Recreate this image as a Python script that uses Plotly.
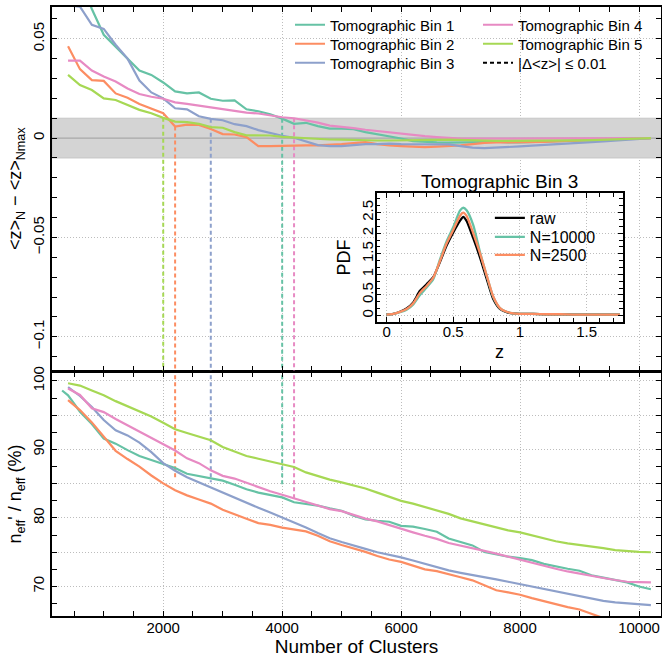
import numpy as np
import plotly.graph_objects as go

# ---------------- data ----------------
n_clusters = list(range(400, 10201, 200))
n_bin1_eff = [300] + n_clusters

bin_names = ["Tomographic Bin 1", "Tomographic Bin 2", "Tomographic Bin 3",
             "Tomographic Bin 4", "Tomographic Bin 5"]

dz_bin1 = [0.095, 0.080, 0.065, 0.052, 0.046, 0.040, 0.034, 0.0318, 0.028, 0.0235,
           0.0225, 0.023, 0.0198, 0.0188, 0.019, 0.0145, 0.0135, 0.012, 0.0098, 0.0072,
           0.0077, 0.006, 0.0048, 0.0048, 0.0045, 0.003, 0.002, 0.001, -0.0002, -0.0015,
           -0.002, -0.0022, -0.0023, -0.0023, -0.0022, -0.002, -0.0018, -0.0022, -0.0022, -0.002,
           -0.0018, -0.0016, -0.0014, -0.0012, -0.001, -0.0008, -0.0005, -0.0003, -0.0001, 0.0]
dz_bin2 = [0.0463, 0.0347, 0.0292, 0.0288, 0.0225, 0.0203, 0.0172, 0.0147, 0.0125, 0.0058,
           0.0068, 0.0066, 0.0046, 0.002, 0.0018, 0.0005, -0.004, -0.004, -0.0038, -0.0037,
           -0.0037, -0.0037, -0.0035, -0.003, -0.0025, -0.002, -0.003, -0.0037, -0.004, -0.0043,
           -0.0045, -0.0043, -0.004, -0.0037, -0.003, -0.0024, -0.0022, -0.0022, -0.0021, -0.002,
           -0.0019, -0.0017, -0.0015, -0.0013, -0.001, -0.0008, -0.0006, -0.0004, -0.0002, 0.0]
dz_bin3 = [0.0668, 0.0662, 0.057, 0.055, 0.047, 0.040, 0.029, 0.023, 0.020, 0.015,
           0.0145, 0.011, 0.0097, 0.009, 0.007, 0.006, 0.004, 0.0025, 0.0012, 0.0002,
           -0.0015, -0.0035, -0.004, -0.004, -0.0035, -0.003, -0.003, -0.0028, -0.003, -0.003,
           -0.003, -0.003, -0.0032, -0.004, -0.0048, -0.005, -0.0048, -0.0046, -0.0042, -0.0038,
           -0.0035, -0.003, -0.0027, -0.0024, -0.002, -0.0016, -0.0012, -0.0008, -0.0004, 0.0]
dz_bin4 = [0.039, 0.039, 0.034, 0.031, 0.0285, 0.025, 0.0222, 0.0208, 0.0198, 0.018,
           0.0172, 0.0165, 0.0155, 0.0146, 0.0138, 0.0128, 0.0124, 0.0115, 0.0105, 0.010,
           0.009, 0.0078, 0.0063, 0.0058, 0.005, 0.0042, 0.0035, 0.003, 0.0022, 0.0015,
           0.001, 0.0005, 0.0, -0.0003, -0.0003, -0.0003, -0.0003, -0.0003, -0.0003, -0.0003,
           -0.0003, -0.0003, -0.0002, -0.0002, -0.0002, -0.0002, -0.0001, -0.0001, 0.0, 0.0]
dz_bin5 = [0.0318, 0.0267, 0.0242, 0.020, 0.0192, 0.0165, 0.0142, 0.0125, 0.0102, 0.0083,
           0.008, 0.0072, 0.0055, 0.0052, 0.003, 0.0014, 0.0013, 0.0013, 0.0006, 0.0002,
           0.0, -0.0004, -0.0007, -0.0008, -0.001, -0.0011, -0.0012, -0.0012, -0.0012, -0.0011,
           -0.001, -0.0009, -0.0008, -0.001, -0.0012, -0.0013, -0.0014, -0.0014, -0.0014, -0.0014,
           -0.0014, -0.0013, -0.0012, -0.0011, -0.001, -0.0008, -0.0006, -0.0004, -0.0002, 0.0]

neff_bin1 = [98.6, 97.9, 95.5, 93.7, 91.6, 90.85, 89.9, 89.05, 88.45, 87.9, 87.3,
             86.45, 86.1, 85.8, 85.45, 84.85, 84.2, 83.7, 83.35, 83.0, 82.3,
             82.1, 81.8, 81.4, 81.05, 80.35, 79.8, 79.6, 79.45, 78.85, 78.75,
             78.4, 78.0, 77.0, 76.5, 76.0, 75.05, 74.7, 74.35, 74.15, 73.85,
             73.3, 72.9, 72.6, 72.3, 71.65, 71.3, 71.0, 70.6, 70.0, 69.6]
neff_bin2 = [97.2, 95.75, 93.95, 91.85, 89.8, 88.6, 87.5, 86.2, 85.05, 84.05,
             83.3, 82.7, 82.1, 81.2, 80.5, 79.9, 79.25, 79.0, 78.6, 78.3,
             78.05, 77.4, 76.6, 76.05, 75.6, 75.05, 74.45, 73.95, 73.6, 73.0,
             72.5, 72.25, 71.85, 71.35, 70.9, 70.2, 69.45, 69.15, 68.8, 68.3,
             67.85, 67.4, 67.0, 66.65, 66.0, 65.4, 65.0, 64.6, 64.2, 63.9]
neff_bin3 = [99.1, 97.8, 96.2, 94.3, 92.8, 92.05, 91.0, 89.6, 88.0, 86.9,
             85.95, 85.2, 84.5, 83.65, 82.9, 82.25, 81.5, 80.8, 80.1, 79.3,
             78.6, 77.8, 77.05, 76.5, 76.05, 75.5, 75.0, 74.65, 74.25, 73.8,
             73.3, 72.85, 72.35, 72.0, 71.7, 71.45, 71.05, 70.7, 70.35, 69.95,
             69.65, 69.3, 68.9, 68.55, 68.15, 67.9, 67.7, 67.55, 67.45, 67.3]
neff_bin4 = [98.9, 97.95, 96.0, 95.45, 94.45, 93.55, 92.65, 91.7, 90.8, 89.85,
             88.7, 88.0, 86.95, 86.15, 85.75, 85.1, 84.45, 83.9, 83.4, 82.85,
             82.35, 81.75, 81.3, 81.0, 80.4, 79.9, 79.5, 78.95, 78.35, 77.9,
             77.4, 76.95, 76.35, 76.0, 75.6, 75.2, 74.8, 74.35, 73.9, 73.4,
             72.95, 72.6, 72.2, 71.85, 71.55, 71.25, 70.95, 70.7, 70.65, 70.6]
neff_bin5 = [99.66, 99.32, 98.6, 97.9, 97.05, 96.3, 95.55, 94.8, 93.9, 92.95,
             92.4, 91.85, 91.35, 90.35, 89.7, 89.05, 88.65, 88.25, 87.9, 87.45,
             86.65, 86.1, 85.6, 85.2, 84.8, 84.3, 83.7, 83.1, 82.5, 82.1,
             81.6, 81.1, 80.6, 79.95, 79.5, 79.1, 78.6, 78.2, 77.9, 77.45,
             77.0, 76.6, 76.3, 76.1, 75.85, 75.6, 75.3, 75.15, 75.05, 75.0]

# N at which |Delta<z>| <= 0.01, and where each marker line ends in the lower panel
n_threshold = [4000, 2200, 2800, 4200, 2000]
neff_cut_end = [84.5, 85.8, 85.2, 82.7, 100.8]
dz_tolerance = 0.01

# inset: PDF of tomographic bin 3
z_grid = [0.0, 0.05, 0.1, 0.15, 0.2, 0.25, 0.3, 0.35, 0.4, 0.45, 0.5, 0.55, 0.575, 0.6,
          0.65, 0.7, 0.75, 0.8, 0.85, 0.9, 0.95, 1.0, 1.1, 1.2, 1.3, 1.4, 1.5, 1.6, 1.7, 1.75]
pdf_raw = [0.02, 0.04, 0.09, 0.17, 0.32, 0.60, 0.76, 0.93, 1.30, 1.70, 2.02, 2.30, 2.40, 2.30,
           1.88, 1.42, 0.90, 0.40, 0.16, 0.08, 0.05, 0.04, 0.04, 0.03, 0.03, 0.02, 0.02, 0.02, 0.02, 0.02]
pdf_n10000 = [0.02, 0.04, 0.08, 0.14, 0.27, 0.50, 0.68, 0.88, 1.36, 1.80, 2.15, 2.55, 2.62, 2.56,
              2.20, 1.55, 0.98, 0.45, 0.18, 0.09, 0.05, 0.04, 0.04, 0.03, 0.03, 0.02, 0.02, 0.02, 0.02, 0.02]
pdf_n2500 = [0.02, 0.04, 0.09, 0.16, 0.30, 0.55, 0.72, 0.92, 1.32, 1.75, 2.08, 2.42, 2.50, 2.42,
             2.00, 1.52, 0.98, 0.46, 0.18, 0.09, 0.05, 0.04, 0.04, 0.03, 0.03, 0.02, 0.02, 0.02, 0.02, 0.02]
inset_names = ["raw", "N=10000", "N=2500"]

# ---------------- style ----------------
colors = ["#66c2a5", "#fc8d62", "#8da0cb", "#e78ac3", "#a6d854"]
FONT = "Liberation Sans"
x_range = [130, 10370]

dz_all = [dz_bin1, dz_bin2, dz_bin3, dz_bin4, dz_bin5]
neff_all = [neff_bin1, neff_bin2, neff_bin3, neff_bin4, neff_bin5]
neff_x = [n_bin1_eff, n_clusters, n_clusters, n_clusters, n_clusters]

# one legend box per entry, so the rows sit where the reference puts them
main_legend_ids = ["legend", "legend2", "legend3", "legend4", "legend5", "legend6"]
inset_legend_ids = ["legend7", "legend8", "legend9"]

fig = go.Figure()

# tolerance band and zero line in upper panel
fig.add_trace(go.Scatter(x=[x_range[0], x_range[1], x_range[1], x_range[0], x_range[0]],
                         y=[-dz_tolerance, -dz_tolerance, dz_tolerance, dz_tolerance, -dz_tolerance],
                         mode="lines", fill="toself", fillcolor="#d4d4d4",
                         line=dict(color="#c6c6c6", width=1),
                         xaxis="x2", yaxis="y2", showlegend=False, hoverinfo="skip"))
fig.add_trace(go.Scatter(x=x_range, y=[0, 0], mode="lines",
                         line=dict(color="#a8a8a8", width=1.2),
                         xaxis="x2", yaxis="y2", showlegend=False, hoverinfo="skip"))

# threshold markers
for i in range(5):
    y_start = float(np.interp(n_threshold[i], n_clusters, dz_all[i]))
    fig.add_trace(go.Scatter(x=[n_threshold[i], n_threshold[i]], y=[y_start, -0.3],
                             mode="lines", line=dict(color=colors[i], width=2, dash="4px,3px"),
                             xaxis="x2", yaxis="y2", showlegend=False, hoverinfo="skip"))
    fig.add_trace(go.Scatter(x=[n_threshold[i], n_threshold[i]], y=[110, neff_cut_end[i]],
                             mode="lines", line=dict(color=colors[i], width=2, dash="4px,3px"),
                             xaxis="x", yaxis="y", showlegend=False, hoverinfo="skip"))

for i in range(5):
    fig.add_trace(go.Scatter(x=n_clusters, y=dz_all[i], mode="lines", name=bin_names[i],
                             line=dict(color=colors[i], width=2.2),
                             xaxis="x2", yaxis="y2", legend=main_legend_ids[i]))
    fig.add_trace(go.Scatter(x=neff_x[i], y=neff_all[i], mode="lines", name=bin_names[i],
                             line=dict(color=colors[i], width=2.2),
                             xaxis="x", yaxis="y", showlegend=False))

fig.add_trace(go.Scatter(x=[None], y=[None], mode="lines", name="|Δ&lt;z&gt;| ≤ 0.01",
                         line=dict(color="black", width=2, dash="4px,3px"),
                         xaxis="x2", yaxis="y2", legend=main_legend_ids[5]))

# inset
for name, ys, col, lg in zip(inset_names, [pdf_raw, pdf_n10000, pdf_n2500],
                             ["black", colors[0], colors[1]], inset_legend_ids):
    fig.add_trace(go.Scatter(x=z_grid, y=ys, mode="lines", name=name,
                             line=dict(color=col, width=2.3, shape="spline", smoothing=0.6),
                             xaxis="x3", yaxis="y3", legend=lg))

split = 244 / 609
line_w = 1.5

axis_common = dict(showline=True, linecolor="black", linewidth=line_w, mirror="ticks",
                   ticks="inside", ticklen=5, tickwidth=1, tickcolor="black",
                   showgrid=True, gridcolor="#bdbdbd", griddash="1px,2px", gridwidth=1,
                   zeroline=False, automargin=False,
                   tickfont=dict(size=15, family=FONT, color="black"))


def legend_box(x, y_px, size):
    return dict(x=x, y=(616 - y_px) / 609, xanchor="left", yanchor="middle",
                bgcolor="rgba(0,0,0,0)", font=dict(size=size, family=FONT),
                itemwidth=30, tracegroupgap=0)


legend_layout = {}
main_rows = [25, 44, 63, 25, 44, 63]
main_cols = [0.3908, 0.3908, 0.3908, 0.6995, 0.6995, 0.6995]
for lid, xc, yr in zip(main_legend_ids, main_cols, main_rows):
    legend_layout[lid] = legend_box(xc, yr, 15)
for lid, yr in zip(inset_legend_ids, [218, 237, 255]):
    legend_layout[lid] = legend_box(0.719, yr, 16)

fig.update_layout(
    width=662, height=657,
    margin=dict(l=52, r=1, t=7, b=41),
    paper_bgcolor="white", plot_bgcolor="white",
    font=dict(family=FONT, color="black"),
    xaxis=dict(axis_common, domain=[0, 1], anchor="y", range=x_range,
               tick0=0, dtick=2000, tickformat="d", ticklabelstandoff=-3,
               minor=dict(dtick=500, ticks="inside", ticklen=5, tickcolor="black", showgrid=False),
               title=dict(text="Number of Clusters", font=dict(size=19), standoff=5)),
    xaxis2=dict(axis_common, domain=[0, 1], anchor="y2", matches="x", showticklabels=False,
                tick0=0, dtick=2000,
                minor=dict(dtick=500, ticks="inside", ticklen=5, tickcolor="black", showgrid=False)),
    yaxis=dict(axis_common, domain=[0, split], anchor="x", range=[65.7, 101.3],
               tickmode="array", tickvals=[70, 75, 80, 85, 90, 95, 100],
               ticktext=["70", "", "80", "", "90", "", "100"], tickangle=-90,
               minor=dict(dtick=2.5, tick0=0, ticks="inside", ticklen=5, tickcolor="black", showgrid=False),
               title=dict(text="n<sub>eff</sub>' / n<sub>eff</sub> (%)", font=dict(size=18), standoff=4)),
    yaxis2=dict(axis_common, domain=[split + line_w / 609, 1], anchor="x2", range=[-0.117, 0.066],
                tick0=0, dtick=0.05, tickangle=-90,
                minor=dict(dtick=0.01, tick0=0, ticks="inside", ticklen=5, tickcolor="black", showgrid=False),
                title=dict(text="&lt;z&gt;<sub>N</sub> − &lt;z&gt;<sub>Nmax</sub>", font=dict(size=18), standoff=4)),
    xaxis3=dict(axis_common, domain=[0.533, 0.938], anchor="y3", range=[-0.075, 1.775],
                tick0=0, dtick=0.5, ticklabelstandoff=-4,
                minor=dict(dtick=0.1, tick0=0, ticks="inside", ticklen=4, tickcolor="black", showgrid=False)),
    yaxis3=dict(axis_common, domain=[0.4833, 0.694], anchor="x3", range=[-0.15, 2.97],
                tick0=0, dtick=0.5, tickangle=-90, ticklabelstandoff=-4,
                minor=dict(dtick=0.5 / 3, tick0=0, ticks="inside", ticklen=4, tickcolor="black", showgrid=False)),
    annotations=[
        dict(text="Tomographic Bin 3", xref="paper", yref="paper", x=0.7355, y=0.713,
             xanchor="center", yanchor="middle", showarrow=False, font=dict(size=19)),
        dict(text="z", xref="paper", yref="paper", x=0.7355, y=0.4335,
             xanchor="center", yanchor="middle", showarrow=False, font=dict(size=18)),
        dict(text="PDF", xref="paper", yref="paper", x=0.481, y=0.5887, textangle=-90,
             xanchor="center", yanchor="middle", showarrow=False, font=dict(size=18)),
    ],
    **legend_layout,
)

fig.write_html("out.html", config={"displayModeBar": False},
               post_script="document.body.style.margin='0';document.body.style.overflow='hidden';")
